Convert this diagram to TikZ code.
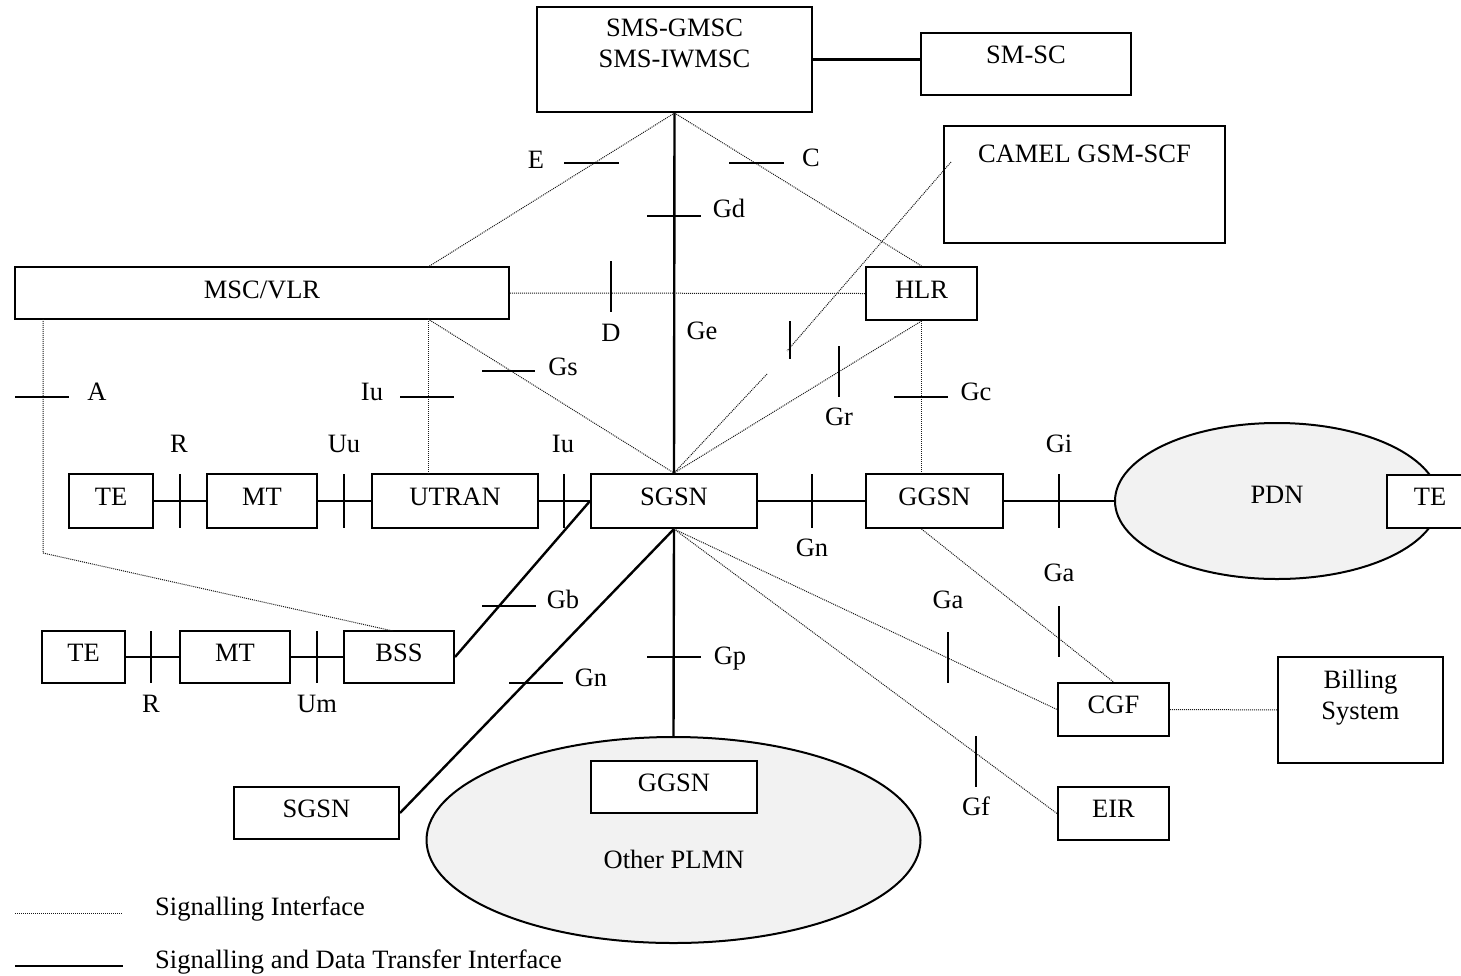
\documentclass[tikz,border=0pt]{standalone}
\usepackage{fontspec}
\setmainfont{Liberation Serif}
\usetikzlibrary{shapes.geometric}
\definecolor{cloud}{HTML}{F2F2F2}
\begin{document}
\begin{tikzpicture}[x=1pt,y=-1pt,
  every node/.style={font=\fontsize{26.5}{31}\selectfont},
  box/.style={draw, line width=2pt, fill=white, inner sep=0pt,
    text height=17.5pt, text depth=9pt},
  net/.style={ellipse, draw, line width=2pt, fill=cloud, inner sep=0pt},
  txt/.style={inner sep=0pt, text height=17.5pt, text depth=0pt},
  para/.style={inner sep=0pt, align=center},
  link/.style={line width=2.4pt},
  sig/.style={draw=black!90, line width=1pt, dash pattern=on 1pt off 1pt},
  bar/.style={line width=2pt}]
\useasboundingbox (0,0) rectangle (1461,975);

% networks
\node[net, minimum width=324pt, minimum height=156pt, text depth=12pt] (pdn) at (1277,501) {PDN};
\node[net, minimum width=494pt, minimum height=206pt] (plmn) at (673.5,840) {};
\node[txt] (plmntext) at (674,860) {Other PLMN};

% network elements
\node[box, minimum width=275pt, minimum height=105pt] (gmsc) at (674.5,59.5) {};
\node[para] (gmsctext) at (674.5,43.5) {SMS-GMSC\\SMS-IWMSC};
\node[box, minimum width=210pt, minimum height=62pt, text depth=18pt] (smsc) at (1026,64) {SM-SC};
\node[box, minimum width=281pt, minimum height=117pt, text depth=61pt] (camel) at (1084.5,184.5) {CAMEL GSM-SCF};
\node[box, minimum width=494pt, minimum height=52pt, text depth=6pt] (msc) at (262,293) {MSC/VLR};
\node[box, minimum width=111pt, minimum height=53pt, text depth=7pt] (hlr) at (921.5,293.5) {HLR};

\node[box, minimum width=84pt, minimum height=54pt] (te1) at (111,501) {TE};
\node[box, minimum width=110pt, minimum height=54pt] (mt1) at (262,501) {MT};
\node[box, minimum width=166pt, minimum height=54pt] (utran) at (455,501) {UTRAN};
\node[box, minimum width=166pt, minimum height=54pt] (sgsn) at (674,501) {SGSN};
\node[box, minimum width=137pt, minimum height=54pt] (ggsn) at (934.5,501) {GGSN};
\node[box, minimum width=86pt, minimum height=53pt] (te3) at (1430,501.5) {TE};

\node[box, minimum width=83pt, minimum height=52pt] (te2) at (83.5,657) {TE};
\node[box, minimum width=110pt, minimum height=52pt] (mt2) at (235,657) {MT};
\node[box, minimum width=110pt, minimum height=52pt] (bss) at (399,657) {BSS};

\node[box, minimum width=165pt, minimum height=52pt] (sgsn2) at (316.5,813) {SGSN};
\node[box, minimum width=166pt, minimum height=52pt] (ggsn2) at (674,787) {GGSN};
\node[box, minimum width=111pt, minimum height=53pt] (cgf) at (1113.5,709.5) {CGF};
\node[box, minimum width=111pt, minimum height=53pt] (eir) at (1113.5,813.5) {EIR};
\node[box, minimum width=165pt, minimum height=106pt] (billing) at (1360.5,710) {};
\node[para] (billingtext) at (1360.5,697.5) {Billing\\System};

% connector end points on box borders
\coordinate (mscTopR) at (428,267);
\coordinate (mscBotR) at (428,319);
\coordinate (mscBotL) at (43,319);
\coordinate (aBend) at (43,553);
\coordinate (bssTop) at (393,631);
\coordinate (utranTop) at (428,474);
\coordinate (camelIn) at (951,162);
\coordinate (camelGapA) at (787,351);
\coordinate (camelGapB) at (767,374);

% signalling and data transfer interfaces
\draw[link] (gmsc.east) -- (gmsc.east -| smsc.west);
\draw[link] (gmsc.south) -- (sgsn.north);
\draw[link] (te1) -- (mt1);
\draw[link] (mt1) -- (utran);
\draw[link] (utran) -- (sgsn);
\draw[link] (sgsn) -- (ggsn);
\draw[link] (ggsn) -- (pdn);
\draw[link] (te2) -- (mt2);
\draw[link] (mt2) -- (bss);
\draw[link] (bss.east) -- (sgsn.west);
\draw[link] (sgsn.south) -- (sgsn2.east);
\draw[link] (sgsn.south) -- (plmn.north);

% signalling interfaces
\draw[sig] (gmsc.south) -- (mscTopR);
\draw[sig] (gmsc.south) -- (hlr.north);
\draw[sig] (msc.east) -- (hlr.west);
\draw[sig] (mscBotR) -- (sgsn.north);
\draw[sig] (mscBotR) -- (utranTop);
\draw[sig] (mscBotL) -- (aBend) -- (bssTop);
\draw[sig] (camelIn) -- (camelGapA);
\draw[sig] (camelGapB) -- (sgsn.north);
\draw[sig] (hlr.south) -- (sgsn.north);
\draw[sig] (hlr.south) -- (hlr.south |- ggsn.north);
\draw[sig] (hlr.south |- ggsn.south) -- (cgf.north);
\draw[sig] (sgsn.south) -- (cgf.west);
\draw[sig] (sgsn.south) -- (eir.west);
\draw[sig] (cgf) -- (billing);

% reference point marks
\draw[bar] (564,163) -- (619,163);
\draw[bar] (729,163) -- (784,163);
\draw[bar] (647,216) -- (701,216);
\draw[bar] (611,261) -- (611,312);
\draw[bar] (482,371) -- (535,371);
\draw[bar] (400,397) -- (454,397);
\draw[bar] (15,397) -- (69,397);
\draw[bar] (790,321) -- (790,359);
\draw[bar] (839,346) -- (839,397);
\draw[bar] (894,397) -- (948,397);
\foreach \x in {180,344,564,812,1059} \draw[bar] (\x,474) -- (\x,528);
\foreach \x in {151,317} \draw[bar] (\x,631) -- (\x,683);
\draw[bar] (482,606) -- (536,606);
\draw[bar] (509,683) -- (563,683);
\draw[bar] (647,657) -- (701,657);
\draw[bar] (1059,606) -- (1059,657);
\draw[bar] (948,632) -- (948,683);
\draw[bar] (976,736) -- (976,787);

% reference point names
\node[txt] (lE) at (536,160) {E};
\node[txt] (lC) at (811,158) {C};
\node[txt] (lGd) at (729,209) {Gd};
\node[txt] (lD) at (611,333) {D};
\node[txt] (lGe) at (702,331) {Ge};
\node[txt] (lGs) at (563,367) {Gs};
\node[txt] (lIu1) at (372,392) {Iu};
\node[txt] (lA) at (97,392) {A};
\node[txt] (lGr) at (839,417) {Gr};
\node[txt] (lGc) at (976,392) {Gc};
\node[txt] (lR1) at (179,444) {R};
\node[txt] (lUu) at (344,444) {Uu};
\node[txt] (lIu2) at (563,444) {Iu};
\node[txt] (lGi) at (1059,444) {Gi};
\node[txt] (lGn1) at (812,548) {Gn};
\node[txt] (lGa1) at (1059,573) {Ga};
\node[txt] (lGa2) at (948,600) {Ga};
\node[txt] (lGb) at (563,600) {Gb};
\node[txt] (lGn2) at (591,678) {Gn};
\node[txt] (lGp) at (730,656) {Gp};
\node[txt] (lR2) at (151,704) {R};
\node[txt] (lUm) at (317,704) {Um};
\node[txt] (lGf) at (976,807) {Gf};

% legend
\coordinate (legSigA) at (15,913);
\coordinate (legSigB) at (123,913);
\coordinate (legDatA) at (15,966);
\coordinate (legDatB) at (123,966);
\draw[sig] (legSigA) -- (legSigB);
\draw[link] (legDatA) -- (legDatB);
\node[txt, anchor=west] (legSig) at (155,907) {Signalling Interface};
\node[txt, anchor=west] (legDat) at (155,960) {Signalling and Data Transfer Interface};
\end{tikzpicture}
\end{document}
